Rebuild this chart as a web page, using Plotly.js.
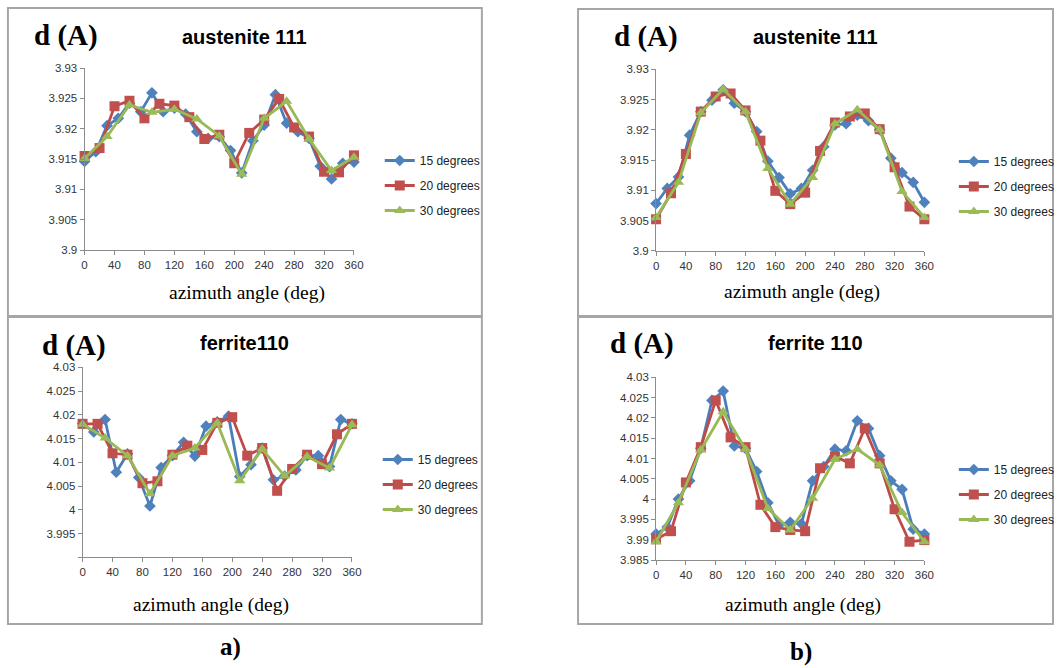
<!DOCTYPE html>
<html>
<head>
<meta charset="utf-8">
<script src="https://cdn.plot.ly/plotly-3.0.1.min.js"></script>
<style>html,body{margin:0;padding:0;background:#fff;}#chart{width:1060px;height:668px;}</style>
</head>
<body>
<div id="chart"></div>
<script>
// ---- data ----
const angles15 = [0,15,30,45,60,75,90,105,120,135,150,165,180,195,210,225,240,255,270,285,300,315,330,345,360];
const angles20 = [0,20,40,60,80,100,120,140,160,180,200,220,240,260,280,300,320,340,360];
const angles30 = [0,30,60,90,120,150,180,210,240,270,300,330,360];
const seriesNames = ['15 degrees','20 degrees','30 degrees'];

// a) austenite 111
const austA15 = [3.9146,3.9162,3.9205,3.9217,3.9242,3.9228,3.9259,3.9228,3.9234,3.9224,3.9195,3.9184,3.9187,3.9164,3.9127,3.9180,3.9206,3.9256,3.9209,3.9195,3.9184,3.9138,3.9117,3.9143,3.9145];
const austA20 = [3.9155,3.9168,3.9237,3.9246,3.9217,3.9241,3.9238,3.9219,3.9183,3.9190,3.9143,3.9193,3.9215,3.9249,3.9202,3.9187,3.9129,3.9128,3.9156];
const austA30 = [3.9151,3.9187,3.9239,3.9227,3.9232,3.9216,3.9188,3.9125,3.9217,3.9245,3.9183,3.9131,3.9153];
// b) austenite 111
const austB15 = [3.9078,3.9103,3.9122,3.9191,3.9230,3.9249,3.9266,3.9244,3.9230,3.9197,3.9148,3.9121,3.9094,3.9103,3.9133,3.9172,3.9208,3.9210,3.9224,3.9215,3.9200,3.9153,3.9129,3.9113,3.9080];
const austB20 = [3.9052,3.9095,3.9160,3.9230,3.9255,3.9260,3.9232,3.9182,3.9099,3.9077,3.9096,3.9165,3.9212,3.9222,3.9227,3.9201,3.9138,3.9073,3.9052];
const austB30 = [3.9055,3.9113,3.9228,3.9267,3.9230,3.9136,3.9077,3.9121,3.9210,3.9233,3.9200,3.9098,3.9055];
// a) ferrite 110
const ferA15 = [4.0181,4.0164,4.0190,4.0079,4.0118,4.0068,4.0008,4.0089,4.0114,4.0142,4.0113,4.0176,4.0185,4.0197,4.0070,4.0095,4.0130,4.0063,4.0071,4.0084,4.0114,4.0114,4.0091,4.0190,4.0181];
const ferA20 = [4.0181,4.0181,4.0119,4.0116,4.0056,4.0060,4.0116,4.0135,4.0126,4.0183,4.0195,4.0114,4.0130,4.0040,4.0086,4.0116,4.0096,4.0159,4.0181];
const ferA30 = [4.0180,4.0151,4.0114,4.0034,4.0114,4.0130,4.0183,4.0061,4.0128,4.0071,4.0112,4.0088,4.0179];
// b) ferrite 110
const ferB15 = [3.9914,3.9931,4.0000,4.0045,4.0125,4.0243,4.0266,4.0131,4.0125,4.0068,3.9991,3.9936,3.9943,3.9939,4.0045,4.0080,4.0123,4.0119,4.0193,4.0174,4.0107,4.0045,4.0024,3.9926,3.9914];
const ferB20 = [3.9901,3.9921,4.0041,4.0128,4.0243,4.0152,4.0128,3.9986,3.9931,3.9924,3.9921,4.0076,4.0105,4.0088,4.0174,4.0088,3.9975,3.9895,3.9899];
const ferB30 = [3.9895,3.9991,4.0121,4.0215,4.0123,3.9977,3.9924,4.0002,4.0098,4.0123,4.0084,3.9967,3.9895];

// tick labels
const xTicks = [0,40,80,120,160,200,240,280,320,360];
const austTickVals = [3.9,3.905,3.91,3.915,3.92,3.925,3.93];
const austTickText = ['3.9','3.905','3.91','3.915','3.92','3.925','3.93'];
const ferATickVals = [3.99,3.995,4,4.005,4.01,4.015,4.02,4.025,4.03];
const ferATickText = ['','3.995','4','4.005','4.01','4.015','4.02','4.025','4.03'];
const ferBTickVals = [3.985,3.99,3.995,4,4.005,4.01,4.015,4.02,4.025,4.03];
const ferBTickText = ['3.985','3.99','3.995','4','4.005','4.01','4.015','4.02','4.025','4.03'];

// ---- styling ----
const W = 1060, H = 668;
const px = v => v / W;
const py = v => 1 - v / H;
const colors = ['#4A7EBB','#BE4B48','#98B954'];
const mcolors = ['#4F81BD','#C0504D','#9BBB59'];
const symbols = ['diamond','square','triangle-up'];
const msizes = [9,10,10];

const panels = [
  {ax:'', ys:[austA15,austA20,austA30], leg:'legend'},
  {ax:'2', ys:[austB15,austB20,austB30], leg:'legend2'},
  {ax:'3', ys:[ferA15,ferA20,ferA30], leg:'legend3'},
  {ax:'4', ys:[ferB15,ferB20,ferB30], leg:'legend4'}
];
const xs = [angles15, angles20, angles30];

const traces = [];
panels.forEach((p, pi) => {
  for (let s = 0; s < 3; s++) {
    traces.push({
      type:'scatter', mode:'lines+markers',
      x: xs[s], y: p.ys[s], name: seriesNames[s],
      xaxis: 'x' + p.ax, yaxis: 'y' + p.ax,
      legend: p.leg, legendgroup: 'g' + pi + s,
      line: {color: colors[s], width: 2.8},
      marker: {symbol: symbols[s], size: msizes[s], color: mcolors[s]},
      cliponaxis: false
    });
  }
});

const tickFont = {family:'Liberation Sans, Arial, sans-serif', size:11.5, color:'#333'};
function xa(dom, anchor) {
  return {domain: dom, anchor: anchor, range:[0,360], tickvals: xTicks, ticktext: xTicks.map(String),
    showgrid:false, zeroline:false, showline:true, linecolor:'#8c8c8c', linewidth:1,
    ticks:'outside', ticklen:4, tickcolor:'#8c8c8c', tickfont: tickFont, fixedrange:true};
}
function ya(dom, anchor, range, tv, tt) {
  return {domain: dom, anchor: anchor, range: range, tickvals: tv, ticktext: tt,
    showgrid:false, zeroline:false, showline:true, linecolor:'#8c8c8c', linewidth:1,
    ticks:'outside', ticklen:4, tickcolor:'#8c8c8c', tickfont: tickFont, fixedrange:true};
}
const legFont = {family:'Liberation Sans, Arial, sans-serif', size:12, color:'#222'};
function leg(x, y) {
  return {x: px(x), y: py(y), xanchor:'left', yanchor:'top', font: legFont, bgcolor:'rgba(0,0,0,0)',
    borderwidth:0, tracegroupgap: 6, itemsizing:'trace', itemwidth:30};
}

const serif = 'Liberation Serif, Times New Roman, serif';
const sans = 'Liberation Sans, Arial, sans-serif';
function ann(text, x, y, font) {
  return {text: text, x: px(x), y: py(y), xref:'paper', yref:'paper', showarrow:false,
    xanchor:'center', yanchor:'middle', font: font};
}
const dFont = {family: serif, size: 29, color:'#000', weight:'bold'};
const tFont = {family: sans, size: 20, color:'#000', weight:'bold'};
const aFont = {family: serif, size: 19.5, color:'#000'};
const lblFont = {family: serif, size: 25, color:'#000', weight:'bold'};

const boxLine = {color:'#a6a6a6', width:2};
function box(x0, y0, x1, y1) {
  return {type:'rect', xref:'paper', yref:'paper', x0: px(x0), x1: px(x1), y0: py(y1), y1: py(y0), line: boxLine, fillcolor:'rgba(0,0,0,0)'};
}

const layout = {
  width: W, height: H, margin:{l:0,r:0,t:0,b:0},
  paper_bgcolor:'#fff', plot_bgcolor:'rgba(0,0,0,0)', showlegend:true,
  xaxis: xa([px(85.3), px(357)], 'y'),
  yaxis: ya([py(250), py(68)], 'x', [3.9,3.93], austTickVals, austTickText),
  xaxis2: xa([px(661.7), px(932.3)], 'y2'),
  yaxis2: ya([py(250.7), py(69.3)], 'x2', [3.9,3.93], austTickVals, austTickText),
  xaxis3: xa([px(83.3), px(355)], 'y3'),
  yaxis3: ya([py(557.3), py(367.3)], 'x3', [3.99,4.03], ferATickVals, ferATickText),
  xaxis4: xa([px(661.7), px(932.3)], 'y4'),
  yaxis4: ya([py(560), py(377.3)], 'x4', [3.985,4.03], ferBTickVals, ferBTickText),
  legend: leg(383, 146),
  legend2: leg(962, 147),
  legend3: leg(381, 445),
  legend4: leg(962, 455),
  shapes: [
    box(8, 8, 486, 316),
    box(8, 317, 486, 624),
    box(583, 9, 1062, 316),
    box(583, 317, 1062, 624)
  ],
  annotations: [
    ann('d (A)', 67, 36, dFont),
    ann('austenite 111', 247, 37, tFont),
    ann('azimuth angle (deg)', 249, 293, aFont),
    ann('d (A)', 652, 37, dFont),
    ann('austenite 111', 822, 37, tFont),
    ann('azimuth angle (deg)', 809, 292, aFont),
    ann('d (A)', 75, 345, dFont),
    ann('ferrite110', 247, 343, tFont),
    ann('azimuth angle (deg)', 213, 605, aFont),
    ann('d (A)', 647, 344, dFont),
    ann('ferrite 110', 822, 343, tFont),
    ann('azimuth angle (deg)', 810, 605, aFont),
    ann('a)', 232, 647, lblFont),
    ann('b)', 808, 652, lblFont)
  ]
};

Plotly.newPlot('chart', traces, layout, {staticPlot:true, displayModeBar:false});
</script>
</body>
</html>
